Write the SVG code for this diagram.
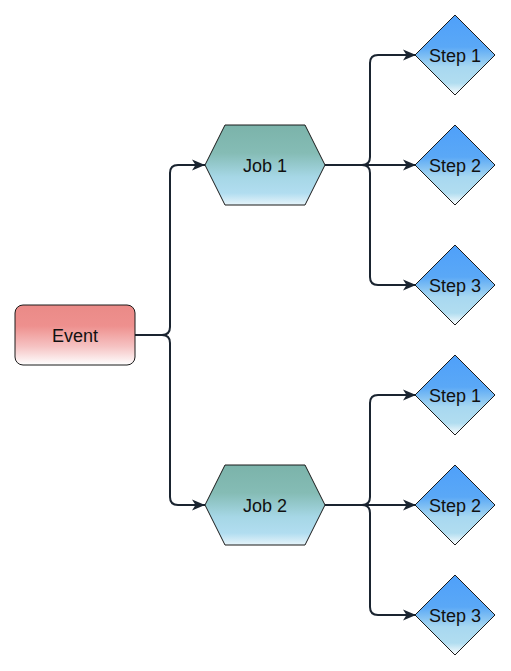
<svg xmlns="http://www.w3.org/2000/svg" width="511" height="671" viewBox="0 0 511 671">
<style>
.lbl{font-family:"Liberation Sans",Arial,Helvetica,sans-serif;font-size:18px;fill:#111;text-anchor:middle}
.shape{stroke:#1a1a1a;stroke-width:1}
.edge{fill:none;stroke:#1a2430;stroke-width:2}
</style>
<defs>
<linearGradient id="gEvent" x1="0" y1="0" x2="0" y2="1">
<stop offset="0" stop-color="#EA8A87"/>
<stop offset="0.35" stop-color="#EE908E"/>
<stop offset="0.7" stop-color="#F6C4C4"/>
<stop offset="1" stop-color="#FFFFFF"/>
</linearGradient>
<linearGradient id="gJob" x1="0" y1="0" x2="0" y2="1">
<stop offset="0" stop-color="#7BB3AA"/>
<stop offset="0.35" stop-color="#85BCB5"/>
<stop offset="0.65" stop-color="#A6D7E6"/>
<stop offset="0.85" stop-color="#B1DDF0"/>
<stop offset="1" stop-color="#E6F4FA"/>
</linearGradient>
<linearGradient id="gStep" x1="0" y1="0" x2="0" y2="1">
<stop offset="0" stop-color="#4FA0FA"/>
<stop offset="0.4" stop-color="#5AA8F6"/>
<stop offset="0.65" stop-color="#A8D8F0"/>
<stop offset="0.85" stop-color="#B1DDF0"/>
<stop offset="1" stop-color="#FFFFFF"/>
</linearGradient>
<marker id="arr" markerUnits="userSpaceOnUse" markerWidth="14" markerHeight="12" refX="13" refY="5.5" orient="auto" viewBox="0 0 14 11">
<path d="M0,0 L13,5.5 L0,11 L3.5,5.5 Z" fill="#1a2430"/>
</marker>
</defs>
<g id="connectors">
<path class="edge" d="M135 335 H162 Q170 335 170 327 V173 Q170 165 178 165 H205" marker-end="url(#arr)"/>
<path class="edge" d="M135 335 H162 Q170 335 170 343 V497 Q170 505 178 505 H205" marker-end="url(#arr)"/>
<path class="edge" d="M325 165 H362 Q370 165 370 157 V63 Q370 55 378 55 H416" marker-end="url(#arr)"/>
<path class="edge" d="M325 165 H416" marker-end="url(#arr)"/>
<path class="edge" d="M325 165 H362 Q370 165 370 173 V277 Q370 285 378 285 H416" marker-end="url(#arr)"/>
<path class="edge" d="M325 505 H362 Q370 505 370 497 V403 Q370 395 378 395 H416" marker-end="url(#arr)"/>
<path class="edge" d="M325 505 H416" marker-end="url(#arr)"/>
<path class="edge" d="M325 505 H362 Q370 505 370 513 V607 Q370 615 378 615 H416" marker-end="url(#arr)"/>
</g>
<g id="event">
<rect class="shape" x="15" y="305" width="120" height="60" rx="8" fill="url(#gEvent)"/>
<text class="lbl" x="75" y="341.5">Event</text>
</g>
<g id="job1">
<polygon class="shape" points="225,125 305,125 325,165 305,205 225,205 205,165" fill="url(#gJob)"/>
<text class="lbl" x="265" y="171.5">Job 1</text>
</g>
<g id="job2">
<polygon class="shape" points="225,465 305,465 325,505 305,545 225,545 205,505" fill="url(#gJob)"/>
<text class="lbl" x="265" y="511.5">Job 2</text>
</g>
<g id="j1s1">
<polygon class="shape" points="455,15 495,55 455,95 415,55" fill="url(#gStep)"/>
<text class="lbl" x="455" y="61.5">Step 1</text>
</g>
<g id="j1s2">
<polygon class="shape" points="455,125 495,165 455,205 415,165" fill="url(#gStep)"/>
<text class="lbl" x="455" y="171.5">Step 2</text>
</g>
<g id="j1s3">
<polygon class="shape" points="455,245 495,285 455,325 415,285" fill="url(#gStep)"/>
<text class="lbl" x="455" y="291.5">Step 3</text>
</g>
<g id="j2s1">
<polygon class="shape" points="455,355 495,395 455,435 415,395" fill="url(#gStep)"/>
<text class="lbl" x="455" y="401.5">Step 1</text>
</g>
<g id="j2s2">
<polygon class="shape" points="455,465 495,505 455,545 415,505" fill="url(#gStep)"/>
<text class="lbl" x="455" y="511.5">Step 2</text>
</g>
<g id="j2s3">
<polygon class="shape" points="455,575 495,615 455,655 415,615" fill="url(#gStep)"/>
<text class="lbl" x="455" y="621.5">Step 3</text>
</g>
</svg>
